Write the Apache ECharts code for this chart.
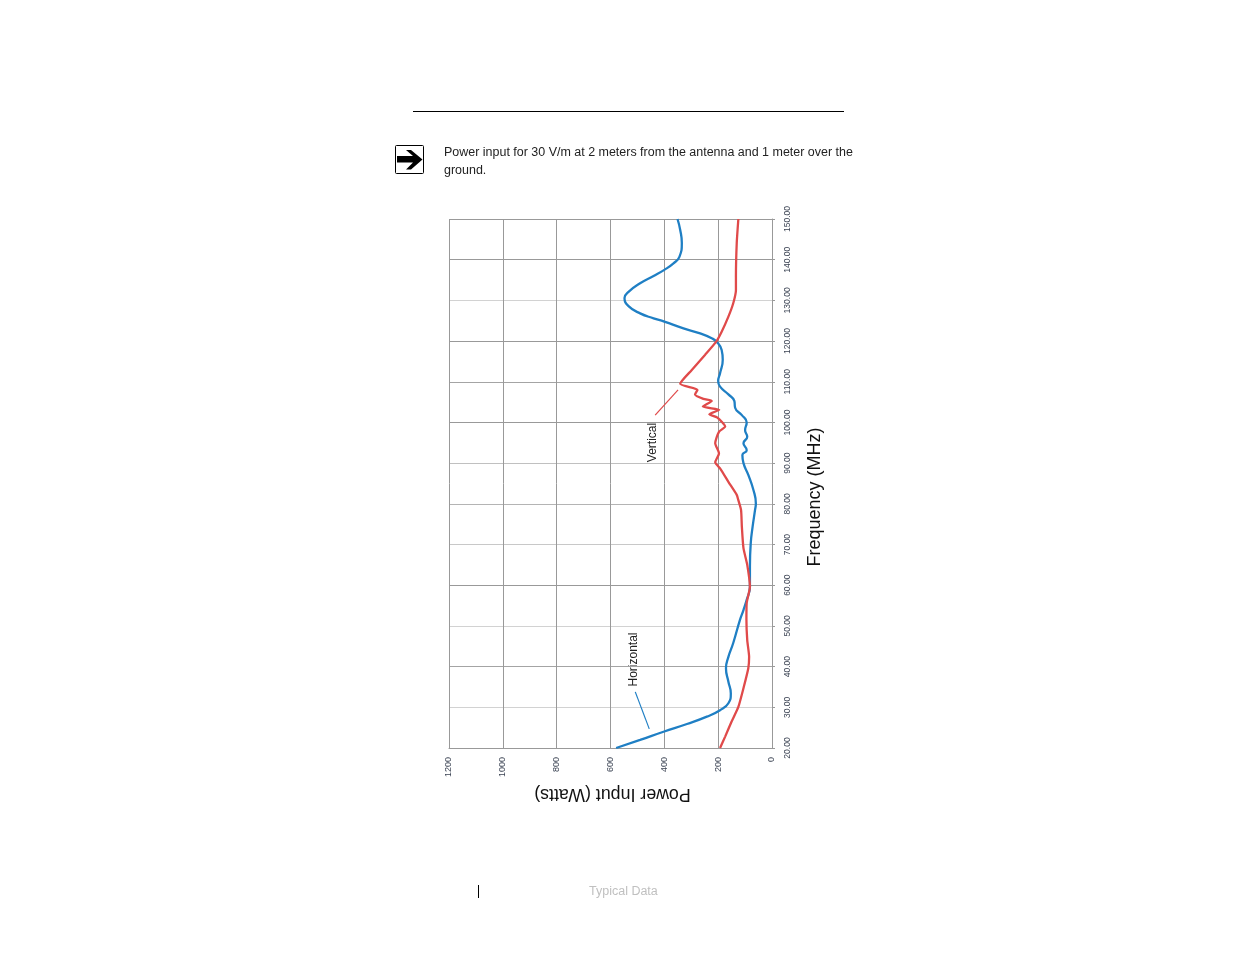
<!DOCTYPE html>
<html>
<head>
<meta charset="utf-8">
<style>html,body{margin:0;padding:0;background:#fff}#c{width:1235px;height:954px}</style>
<script src="https://cdn.jsdelivr.net/npm/echarts@6/dist/echarts.min.js"></script>
</head>
<body>
<div id="c"></div>
<script>
const horizontalFreq = [20,22,24,25.9,27.7,29.3,31,33.4,36.3,39.6,42.4,45.8,51.5,53.9,56.4,59.6,64.6,70.3,74.4,78.5,80.1,83.4,87.1,90,92,93.2,94.9,96.5,98.1,100,101.8,103.6,105.3,106.9,108.8,110.2,112.1,115.4,117.8,119.8,120.7,121.9,123.1,124.8,125.6,126.8,128.6,130.6,132.1,134.2,136,137.5,139.1,140.7,144.1,147.3,150];
const horizontalPower = [579,490,403,316,242,193,162,153,162,171,162,144,119,106,94,82,82,79,72,63,60,69,88,106,110,94,106,92,100,94,112,137,140,162,193,200,193,183,187,205,224,267,329,400,440,490,533,548,533,490,440,400,366,344,335,341,351];
const verticalFreq = [20,22.8,26.5,30.1,34.7,39.6,42.4,46.5,51.5,55.6,59.6,65,69.1,74.4,78.5,80.9,82.2,85.4,88.7,90.2,92.4,94.9,97.7,99,101.2,102,103.1,103.9,105.3,105.8,106.9,108,109.5,112.9,116.6,119.8,122.3,126,129.3,132.5,135.8,144.1,150];
const verticalPower = [193,174,150,125,106,88,85,92,95,94,82,92,106,112,115,125,131,162,193,211,197,211,197,174,203,233,196,257,224,255,286,277,341,298,249,208,187,162,144,134,134,131,125];
const leaderHorizontal = [[508,33.8],[456,24.7]];
const leaderVertical = [[434,101.8],[349,108]];
const pair = (ps, fs) => ps.map((p, i) => [p, fs[i]]);

const chart = echarts.init(document.getElementById('c'));
const font = 'Liberation Sans';
const freqGridColors = ['#999999','#d2d2d2','#a4a4a4','#d2d2d2','#999999','#c8c8c8','#b4b4b4','#c0c0c0','#999999','#a4a4a4','#999999','#d2d2d2','#999999','#999999'];

chart.setOption({
  animation: false,
  backgroundColor: '#fff',
  grid: {left: 449, top: 219, width: 323, height: 529, containLabel: false},
  xAxis: {
    type: 'value', inverse: true, min: 0, max: 1200, interval: 200,
    name: 'Power Input (Watts)', nameLocation: 'middle', nameGap: 35, nameRotate: 180,
    nameTextStyle: {fontFamily: font, fontSize: 17.8, color: '#111', padding: [0, 4, 0, 0]},
    axisLine: {show: true, onZero: false, lineStyle: {color: '#999999'}},
    axisTick: {show: false},
    axisLabel: {rotate: 90, fontFamily: font, fontSize: 9, color: '#3c4454', margin: 9,
      formatter: v => String(v)},
    splitLine: {show: true, lineStyle: {color: '#999999', width: 1}}
  },
  yAxis: {
    type: 'value', position: 'right', min: 20, max: 150, interval: 10,
    name: 'Frequency (MHz)', nameLocation: 'middle', nameGap: 34, nameRotate: 90,
    nameTextStyle: {fontFamily: font, fontSize: 18, color: '#111', padding: [0, 27, 0, 0]},
    axisLine: {show: true, onZero: false, lineStyle: {color: '#999999'}},
    axisTick: {show: true, length: 3, lineStyle: {color: '#999999'}},
    axisLabel: {rotate: 90, fontFamily: font, fontSize: 8.5, color: '#3c4454', margin: 11,
      formatter: v => v.toFixed(2)},
    splitLine: {show: true, lineStyle: {color: freqGridColors, width: 1}}
  },
  series: [
    {name: 'Horizontal', type: 'line', data: pair(horizontalPower, horizontalFreq), showSymbol: false, smooth: 0.5,
      lineStyle: {color: '#1f7fc4', width: 2.3}, itemStyle: {color: '#1f7fc4'}},
    {name: 'Vertical', type: 'line', data: pair(verticalPower, verticalFreq), showSymbol: false, smooth: 0.2,
      lineStyle: {color: '#e04a4a', width: 2.3}, itemStyle: {color: '#e04a4a'}},
    {name: 'Horizontal leader', type: 'line', data: leaderHorizontal, showSymbol: false,
      lineStyle: {color: '#1f7fc4', width: 1.2}},
    {name: 'Vertical leader', type: 'line', data: leaderVertical, showSymbol: false,
      lineStyle: {color: '#e04a4a', width: 1.2}}
  ],
  graphic: [
    {type: 'rect', shape: {x: 413, y: 111, width: 431, height: 1}, style: {fill: '#000'}},
    {type: 'rect', shape: {x: 395.5, y: 145.5, width: 28, height: 28, r: 1}, style: {fill: '#fff', stroke: '#000', lineWidth: 1}},
    {type: 'polygon', shape: {points: [[397,156],[413,156],[406,150],[411,150],[422.5,159.5],[411,169.5],[406,169.5],[413,162.5],[397,162.5]]}, style: {fill: '#000'}},
    {type: 'text', x: 444, y: 153, style: {text: 'Power input for 30 V/m at 2 meters from the antenna and 1 meter over the', fontFamily: font, fontSize: 12.47, fill: '#222', textVerticalAlign: 'middle'}},
    {type: 'text', x: 444, y: 171, style: {text: 'ground.', fontFamily: font, fontSize: 12.47, fill: '#222', textVerticalAlign: 'middle'}},
    {type: 'text', x: 653, y: 442.5, rotation: Math.PI / 2, style: {text: 'Vertical', fontFamily: font, fontSize: 12, fill: '#222', textAlign: 'center', textVerticalAlign: 'middle'}},
    {type: 'text', x: 634, y: 659.5, rotation: Math.PI / 2, style: {text: 'Horizontal', fontFamily: font, fontSize: 12, fill: '#222', textAlign: 'center', textVerticalAlign: 'middle'}},
    {type: 'rect', shape: {x: 478, y: 885, width: 1, height: 13}, style: {fill: '#000'}},
    {type: 'text', x: 589, y: 892, style: {text: 'Typical Data', fontFamily: font, fontSize: 12.5, fill: '#c0c0c0', textVerticalAlign: 'middle'}}
  ]
});
</script>
</body>
</html>
